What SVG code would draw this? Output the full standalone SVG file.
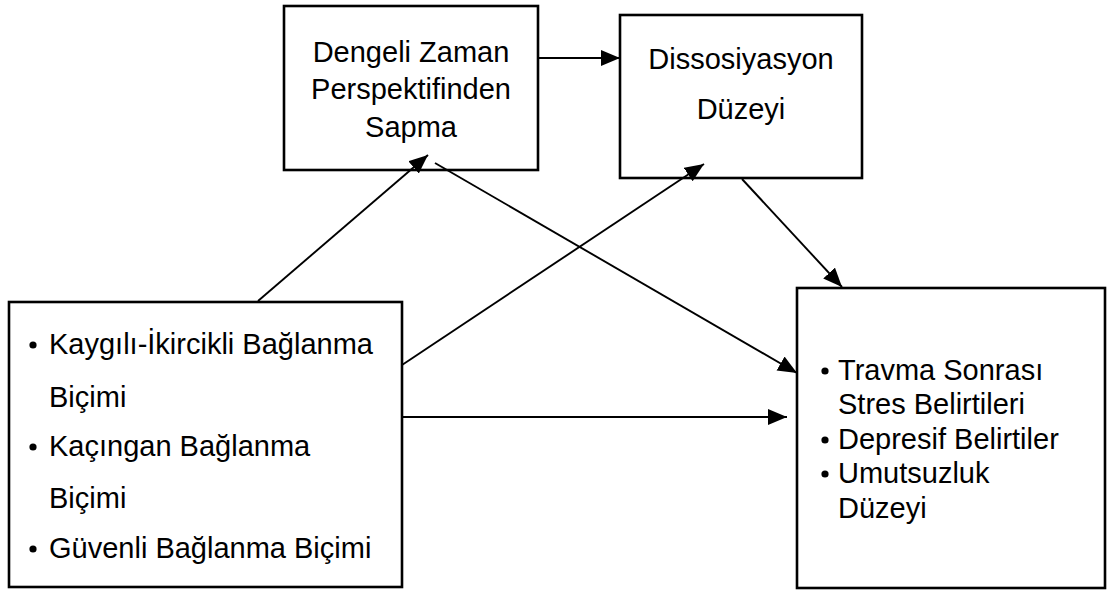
<svg xmlns="http://www.w3.org/2000/svg" width="1107" height="590" viewBox="0 0 1107 590">
<style>
.box{fill:#fff;stroke:#000;stroke-width:2.6}
.t{font-family:"Liberation Sans",Arial,sans-serif;font-size:29px;fill:#000}
.c{text-anchor:middle}
.ln{stroke:#000;stroke-width:1.9;fill:none;marker-end:url(#ah)}
</style>
<defs>
<marker id="ah" markerUnits="userSpaceOnUse" markerWidth="22" markerHeight="18" refX="19" refY="8" orient="auto">
<path d="M0,0 L19,8 L0,16 Z" fill="#000"/>
</marker>
</defs>
<rect width="1107" height="590" fill="#fff"/>
<g id="node-dengeli">
<rect class="box" x="284" y="6" width="254" height="164"/>
<text class="t c" x="411" y="62">Dengeli Zaman</text>
<text class="t c" x="411" y="99">Perspektifinden</text>
<text class="t c" x="411" y="137">Sapma</text>
</g>
<g id="node-dissosiyasyon">
<rect class="box" x="620" y="15" width="242" height="163"/>
<text class="t c" x="741" y="69">Dissosiyasyon</text>
<text class="t c" x="741" y="119">Düzeyi</text>
</g>
<g id="node-baglanma">
<rect class="box" x="9" y="302" width="393" height="285"/>
<circle cx="33" cy="345" r="3.6"/>
<text class="t" x="49" y="354">Kaygılı-İkircikli Bağlanma</text>
<text class="t" x="49" y="407">Biçimi</text>
<circle cx="33" cy="447" r="3.6"/>
<text class="t" x="49" y="456">Kaçıngan Bağlanma</text>
<text class="t" x="49" y="508">Biçimi</text>
<circle cx="33" cy="549" r="3.6"/>
<text class="t" x="49" y="558">Güvenli Bağlanma Biçimi</text>
</g>
<g id="node-sonuclar">
<rect class="box" x="797" y="288" width="308" height="300"/>
<circle cx="825" cy="371" r="3.6"/>
<text class="t" x="838" y="380">Travma Sonrası</text>
<text class="t" x="838" y="414">Stres Belirtileri</text>
<circle cx="825" cy="440" r="3.6"/>
<text class="t" x="838" y="449">Depresif Belirtiler</text>
<circle cx="825" cy="474" r="3.6"/>
<text class="t" x="838" y="483">Umutsuzluk</text>
<text class="t" x="838" y="518">Düzeyi</text>
</g>
<g id="connectors">
<line class="ln" x1="538" y1="58" x2="620" y2="58"/>
<line class="ln" x1="258" y1="301" x2="428" y2="155"/>
<line class="ln" x1="435" y1="163" x2="797" y2="373"/>
<line class="ln" x1="402" y1="365" x2="704" y2="164"/>
<line class="ln" x1="742" y1="179" x2="842" y2="287"/>
<line class="ln" x1="402" y1="417" x2="787" y2="417"/>
</g>
</svg>
